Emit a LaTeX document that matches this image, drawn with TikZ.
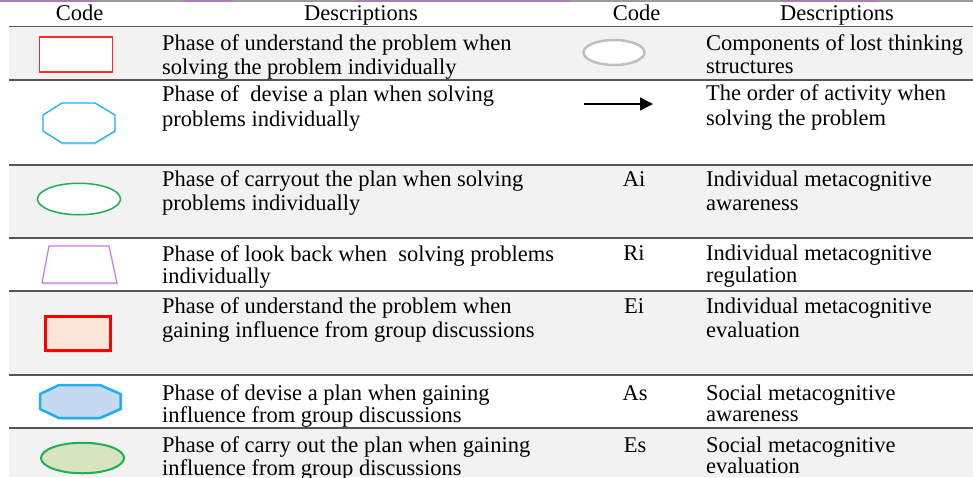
\documentclass[tikz,border=0pt]{standalone}
\usepackage{fontspec}
\setmainfont{Liberation Serif}
\usetikzlibrary{arrows.meta,shapes.geometric,shadows}
\definecolor{rowgray}{HTML}{F2F2F2}
\definecolor{rulegray}{HTML}{555555}
\definecolor{topgray}{HTML}{9A9A9A}
\definecolor{toppurple}{HTML}{B07AB8}
\definecolor{shred}{HTML}{FF2A2A}
\definecolor{shblue}{HTML}{1CB2EE}
\definecolor{shgreen}{HTML}{1DB055}
\definecolor{shviolet}{HTML}{C878E8}
\definecolor{shpeach}{HTML}{FBE5D6}
\definecolor{shlblue}{HTML}{C5D9F1}
\definecolor{shlgreen}{HTML}{D7E4BD}
\definecolor{shgray}{HTML}{BFBFBF}
\begin{document}
\begin{tikzpicture}[x=1pt,y=-1pt,
  txt/.style={anchor=base west,inner sep=0pt,font=\fontsize{22.5}{24}\selectfont},
  ctr/.style={anchor=base,inner sep=0pt,font=\fontsize{22.5}{24}\selectfont},
  rulel/.style={draw=rulegray,line width=1.5pt},
  shd/.style={drop shadow={opacity=0.18,shadow xshift=0.8pt,shadow yshift=-2pt}}]
\useasboundingbox (0,0) rectangle (973,477);
% shaded rows
\fill[rowgray] (9,27) rectangle (973,80);
\fill[rowgray] (9,165) rectangle (973,238);
\fill[rowgray] (9,291) rectangle (973,375);
\fill[rowgray] (9,428) rectangle (973,477);
% top border
\draw[topgray,line width=2pt] (0,1) -- (973,1);
\draw[toppurple,line width=2pt] (0,1) -- (97,1) (183,1) -- (233,1) (357,1) -- (570,1) (783,1) -- (877,1);
% rules
\foreach \yy in {26.5,80,165,238,291,375,428}
  \draw[rulel] (9,\yy) -- (973,\yy);
% headers
\node[ctr] (h1) at (79.5,20) {Code};
\node[ctr] (h2) at (361,20) {Descriptions};
\node[ctr] (h3) at (636.5,20) {Code};
\node[ctr] (h4) at (837,20) {Descriptions};
% shapes left
\node[draw=shred,fill=white,line width=1.3pt,minimum width=73pt,minimum height=35pt,inner sep=0pt] (s1) at (76,54.5) {};
\path[draw=shblue,fill=white,line width=1.3pt,shd] (62,103) -- (95,103) -- (115,115) -- (115,131) -- (95,143) -- (62,143) -- (43,131) -- (43,115) -- cycle;
\node[ellipse,draw=shgreen,fill=white,line width=1.5pt,minimum width=83pt,minimum height=31.5pt,inner sep=0pt] (s3) at (79,199) {};
\path[draw=shviolet,fill=white,line width=1.2pt,shd] (49,246) -- (109,246) -- (117,283) -- (42,283) -- cycle;
\node[draw=red,fill=shpeach,line width=2.5pt,minimum width=65pt,minimum height=34pt,inner sep=0pt,shd] (s5) at (78,333.5) {};
\path[draw=shblue,fill=shlblue,line width=2.5pt,shd] (59,385) -- (100,385) -- (120.5,394) -- (120.5,409) -- (100,418) -- (59,418) -- (40,409) -- (40,394) -- cycle;
\node[ellipse,draw=shgreen,fill=shlgreen,line width=2pt,minimum width=83pt,minimum height=30.5pt,inner sep=0pt] (s7) at (82.5,458) {};
% shapes right
\node[ellipse,draw=shgray,fill=white,line width=2.5pt,minimum width=61pt,minimum height=25pt,inner sep=0pt] (r1) at (614,52.5) {};
\coordinate (aS) at (584,104);
\coordinate (aE) at (653,104);
\draw[line width=1.5pt,-{Triangle[length=13pt,width=13pt]}] (aS) -- (aE);
% left descriptions
\node[txt] (l1a) at (162,50) {Phase of understand the problem when};
\node[txt] (l1b) at (162,74) {solving the problem individually};
\node[txt] (l2a) at (162,101.5) {Phase of\ \ devise a plan when solving};
\node[txt] (l2b) at (162,126) {problems individually};
\node[txt] (l3a) at (162,186.5) {Phase of carryout the plan when solving};
\node[txt] (l3b) at (162,210) {problems individually};
\node[txt] (l4a) at (162,261) {Phase of look back when\ \ solving problems};
\node[txt] (l4b) at (162,283.5) {individually};
\node[txt] (l5a) at (162,313) {Phase of understand the problem when};
\node[txt] (l5b) at (162,337) {gaining influence from group discussions};
\node[txt] (l6a) at (162,400) {Phase of devise a plan when gaining};
\node[txt] (l6b) at (162,422) {influence from group discussions};
\node[txt] (l7a) at (162,452) {Phase of carry out the plan when gaining};
\node[txt] (l7b) at (162,475) {influence from group discussions};
% codes
\node[ctr] (c3) at (634,186.5) {Ai};
\node[ctr] (c4) at (634,260.5) {Ri};
\node[ctr] (c5) at (634,313) {Ei};
\node[ctr] (c6) at (635,400) {As};
\node[ctr] (c7) at (635,452) {Es};
% right descriptions
\node[txt] (d1a) at (706,50) {Components of lost thinking};
\node[txt] (d1b) at (706,73) {structures};
\node[txt] (d2a) at (706,100.5) {The order of activity when};
\node[txt] (d2b) at (706,125) {solving the problem};
\node[txt] (d3a) at (706,186.5) {Individual metacognitive};
\node[txt] (d3b) at (706,210) {awareness};
\node[txt] (d4a) at (706,260.5) {Individual metacognitive};
\node[txt] (d4b) at (706,282) {regulation};
\node[txt] (d5a) at (706,313) {Individual metacognitive};
\node[txt] (d5b) at (706,337) {evaluation};
\node[txt] (d6a) at (706,400) {Social metacognitive};
\node[txt] (d6b) at (706,421) {awareness};
\node[txt] (d7a) at (706,452) {Social metacognitive};
\node[txt] (d7b) at (706,473.5) {evaluation};
\end{tikzpicture}
\end{document}
